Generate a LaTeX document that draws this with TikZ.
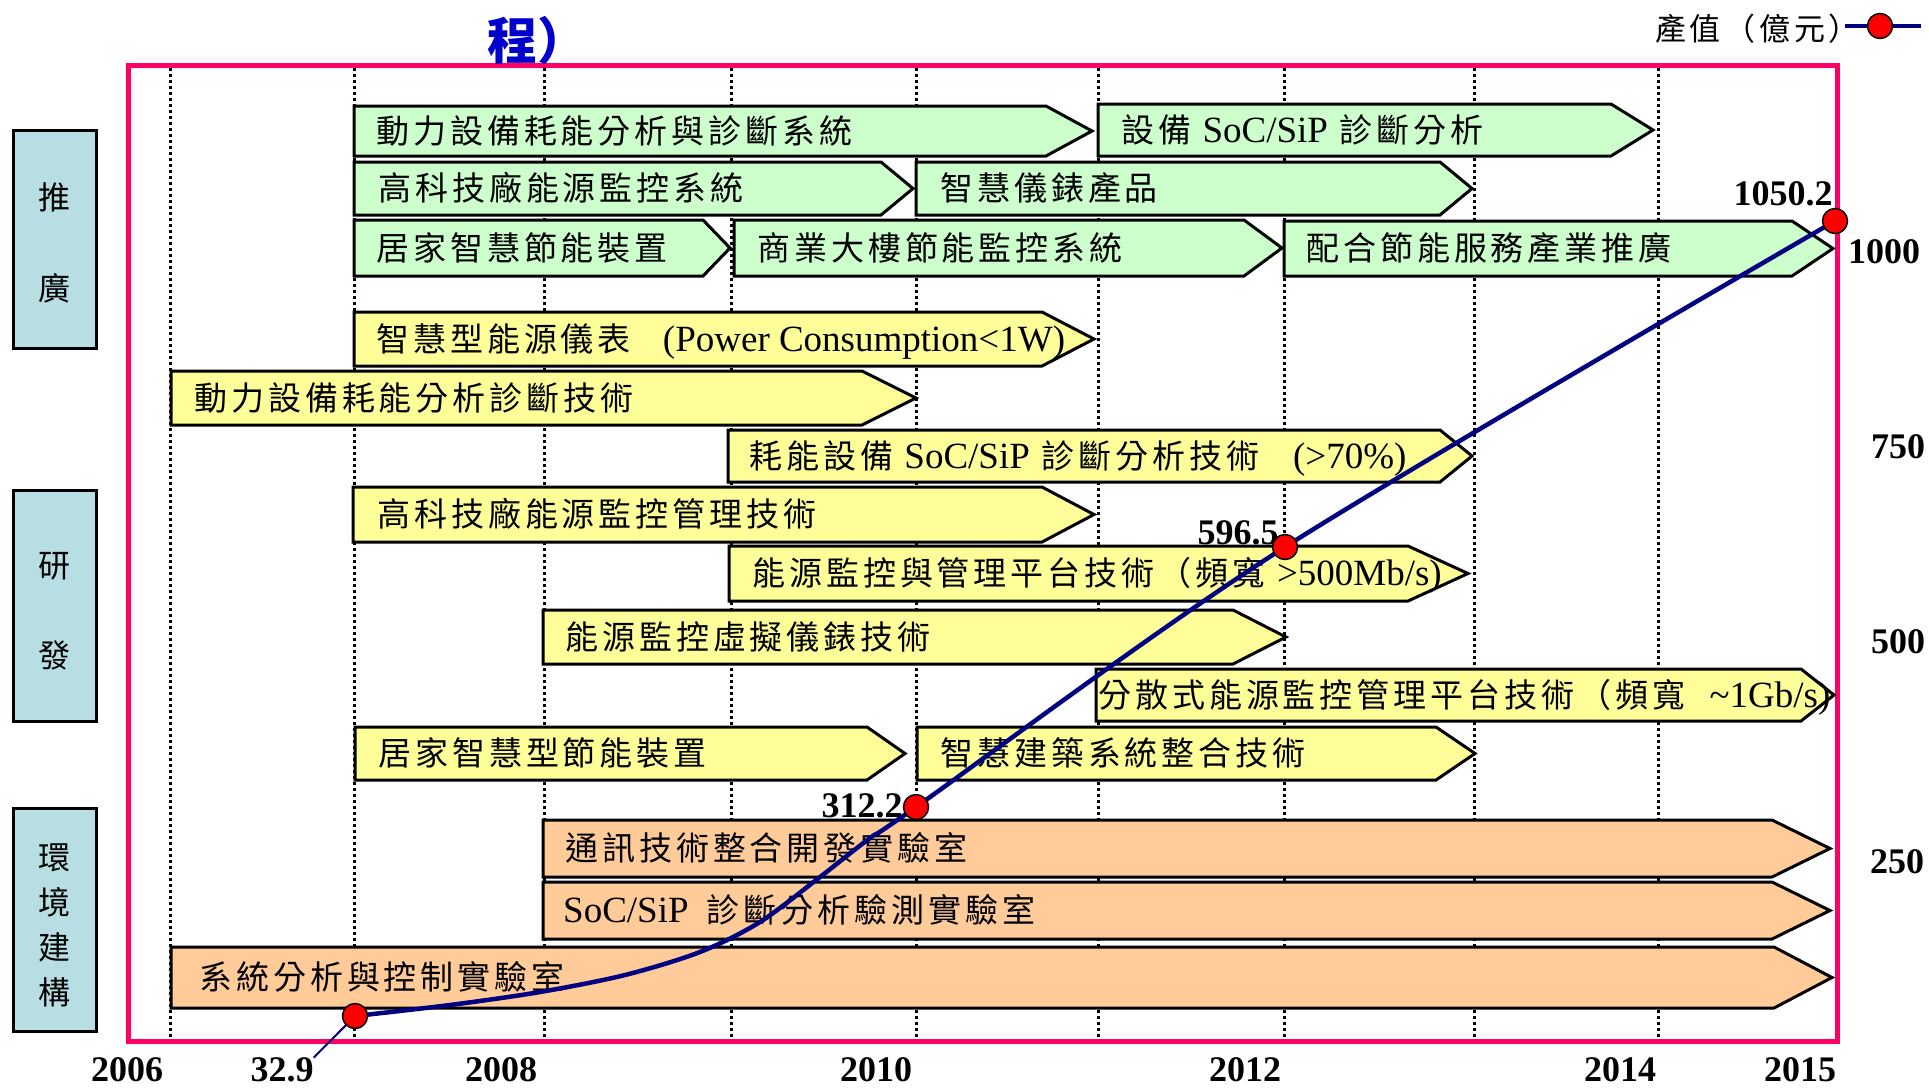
\documentclass[tikz,border=0pt]{standalone}
\usepackage{fontspec}
\newfontfamily\cjk{Noto Sans CJK TC}[LetterSpace=12]
\newfontfamily\cjkt{Noto Sans CJK TC}
\newfontfamily\tms{Liberation Serif}
\definecolor{grn}{HTML}{CCFFCC}
\definecolor{ylw}{HTML}{FFFF99}
\definecolor{org}{HTML}{FFCC99}
\definecolor{sidec}{HTML}{B7DEE2}
\definecolor{pinkc}{HTML}{FF0066}
\definecolor{navyc}{HTML}{000080}
\definecolor{ttlc}{HTML}{0000CC}
\newcommand\lat[1]{{\tms\fontsize{37}{40}\selectfont #1}}
% name, fill, x1, xbody, xtip, ytop, ybot, pad, text
\newcommand\chev[9]{%
  \draw[chevline, fill=#2] (#3,#6) -- (#4,#6) -- (#5,{(#6+#7)/2}) -- (#4,#7) -- (#3,#7) -- cycle;
  \node[lbl] (#1) at ({#3+#8},{(#6+#7)/2+12}) {#9};
}
\begin{document}
\begin{tikzpicture}[x=1pt,y=-1pt,
  chevline/.style={draw=black, line width=3pt, line join=miter},
  lbl/.style={anchor=base west, inner sep=0pt, font=\cjk\fontsize{33}{38}\selectfont},
  sidebox/.style={draw=black, line width=3pt, fill=sidec},
  sidetxt/.style={inner sep=0pt, align=center},
  gridl/.style={line width=3pt, dash pattern=on 3pt off 3pt},
  num/.style={inner sep=0pt, font=\tms\bfseries\fontsize{36}{40}\selectfont},
  curve/.style={draw=navyc, line width=4.5pt, line cap=round, line join=round},
  dot/.style={circle, draw=black, line width=1.5pt, fill=red, minimum size=25pt, inner sep=0pt}]
\useasboundingbox (0,0) rectangle (1929,1088);

% frame
\draw[pinkc, line width=5pt] (128,65) rectangle (1837,1041);
% year grid
\foreach \x in {170,354,544,731,916,1098,1284,1474,1658}
  \draw[gridl] (\x,68) -- (\x,1038);

% side category boxes
\draw[sidebox] (13,130) rectangle (96,348);
\draw[sidebox] (13,490) rectangle (96,721);
\draw[sidebox] (13,808) rectangle (96,1031);
\node[sidetxt, font=\cjkt\fontsize{32}{91}\selectfont] (s1) at (54,243) {推\\廣};
\node[sidetxt, font=\cjkt\fontsize{32}{90}\selectfont] (s2) at (54,611) {研\\發};
\node[sidetxt, font=\cjkt\fontsize{32}{45}\selectfont] (s3) at (54,925) {環\\境\\建\\構};

% chevrons
\chev{r1a}{grn}{354}{1046}{1092}{106}{156}{22}{動力設備耗能分析與診斷系統}
\chev{r1b}{grn}{1098}{1611}{1653}{104}{156}{23}{設備 \lat{SoC/SiP} 診斷分析}
\chev{r2a}{grn}{354}{881}{913}{162}{215}{24}{高科技廠能源監控系統}
\chev{r2b}{grn}{916}{1440}{1472}{162}{215}{24}{智慧儀錶產品}
\chev{r3a}{grn}{354}{703}{730}{220}{276}{22}{居家智慧節能裝置}
\chev{r3b}{grn}{734}{1244}{1282}{220}{276}{23}{商業大樓節能監控系統}
\chev{r3c}{grn}{1284}{1792}{1833}{221}{276}{22}{配合節能服務產業推廣}
\chev{r4}{ylw}{354}{1042}{1094}{312}{366}{22}{智慧型能源儀表\hspace{32pt}\lat{(Power Consumption<1W)}}
\chev{r5}{ylw}{171}{862}{916}{371}{425}{23}{動力設備耗能分析診斷技術}
\chev{r6}{ylw}{728}{1440}{1472}{430}{482}{21}{耗能設備 \lat{SoC/SiP} 診斷分析技術\hspace{34pt}\lat{(>70\%)}}
\chev{r7}{ylw}{353}{1042}{1094}{487}{542}{24}{高科技廠能源監控管理技術}
\chev{r8}{ylw}{729}{1408}{1468}{546}{601}{23}{能源監控與管理平台技術（頻寬 \lat{>500Mb/s)}}
\chev{r9}{ylw}{543}{1233}{1286}{610}{664}{22}{能源監控虛擬儀錶技術}
\chev{r10}{ylw}{1096}{1801}{1834}{669}{721}{2}{分散式能源監控管理平台技術（頻寬\hspace{24pt}\lat{\textasciitilde 1Gb/s)}}
\chev{r11a}{ylw}{355}{867}{905}{727}{780}{23}{居家智慧型節能裝置}
\chev{r11b}{ylw}{917}{1436}{1475}{727}{780}{23}{智慧建築系統整合技術}
\chev{r12}{org}{543}{1772}{1830}{820}{877}{22}{通訊技術整合開發實驗室}
\chev{r13}{org}{543}{1772}{1830}{882}{939}{20}{\lat{SoC/SiP}\hspace{18pt}診斷分析驗測實驗室}
\chev{r14}{org}{171}{1774}{1832}{947}{1008}{28}{系統分析與控制實驗室}

% title fragment
\node[anchor=west, inner sep=0pt, text=ttlc, font=\cjkt\bfseries\fontsize{50}{56}\selectfont] (ttl) at (487,40) {程）};

% axis labels
\node[num] (y2006) at (127,1070) {2006};
\node[num] (v329) at (282,1070) {32.9};
\node[num] (y2008) at (501,1070) {2008};
\node[num] (y2010) at (876,1070) {2010};
\node[num] (y2012) at (1245,1070) {2012};
\node[num] (y2014) at (1620,1070) {2014};
\node[num] (y2015) at (1800,1070) {2015};
\node[num] (a1000) at (1884,252) {1000};
\node[num] (a750) at (1898,447) {750};
\node[num] (a500) at (1898,642) {500};
\node[num] (a250) at (1897,862) {250};
\node[num] (v3122) at (862,806) {312.2};
\node[num] (v5965) at (1238,533) {596.5};
\node[num] (v10502) at (1783,194) {1050.2};

% data series
\coordinate (p1) at (355,1016);
\coordinate (p2) at (916,807);
\coordinate (p3) at (1285,547);
\coordinate (p4) at (1835,221);
\draw[curve] plot[smooth, tension=0.5] coordinates {(p1) (450,1005) (540,992) (625,975) (700,952) (760,922) (820,877) (870,838) (p2) (p3) (p4)};
\draw[navyc, line width=2pt] (v329.north east) -- (p1);
\node[dot] (d1) at (p1) {};
\node[dot] (d2) at (p2) {};
\node[dot] (d3) at (p3) {};
\node[dot] (d4) at (p4) {};

% legend
\node[anchor=west, inner sep=0pt, font=\cjk\fontsize{31}{36}\selectfont] (leg) at (1655,29) {產值（億元）};
\coordinate (la) at (1845,26);
\coordinate (lb) at (1921,26);
\draw[curve, line cap=butt] (la) -- (lb);
\node[dot] (ld) at (1880,26) {};
\end{tikzpicture}
\end{document}
